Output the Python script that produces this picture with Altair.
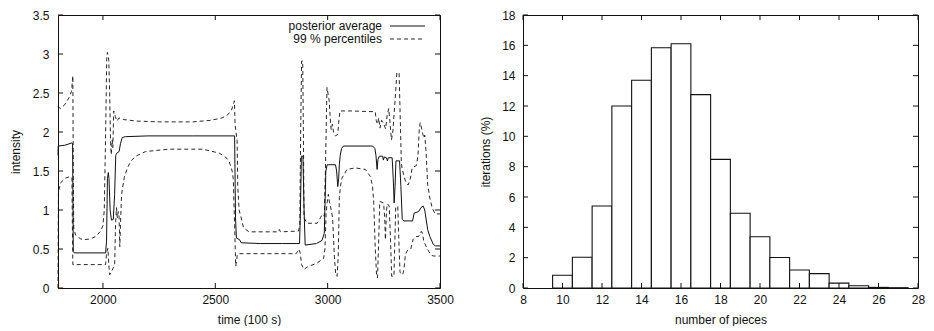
import altair as alt
import pandas as pd

# ---------------- data: left panel (time series) ----------------
avg_t = [1800, 1801, 1830, 1862, 1865, 1868, 1872, 2012, 2016, 2020, 2024, 2027, 2032, 2038, 2046,
         2052, 2057, 2062, 2072, 2078, 2086, 2100, 2200, 2400, 2586, 2590, 2594, 2608, 2615, 2700,
         2800, 2875, 2879, 2883, 2890, 2895, 2900, 2950, 2975, 2985, 2992, 2998, 3035, 3040, 3045,
         3049, 3052, 3056, 3062, 3070, 3200, 3210, 3215, 3220, 3224, 3230, 3245, 3248, 3252, 3262,
         3266, 3270, 3287, 3292, 3296, 3300, 3304, 3320, 3326, 3332, 3340, 3378, 3385, 3405, 3415,
         3425, 3432, 3445, 3455, 3470, 3480, 3500]
avg_v = [1.70, 1.82, 1.83, 1.86, 1.85, 0.47, 0.45, 0.45, 0.60, 1.40, 1.48, 1.40, 1.00, 0.87, 0.88,
         1.20, 1.70, 1.73, 1.75, 1.85, 1.93, 1.94, 1.95, 1.95, 1.95, 0.90, 0.64, 0.62, 0.58, 0.57,
         0.57, 0.57, 1.00, 1.69, 1.69, 1.00, 0.55, 0.57, 0.61, 0.70, 1.50, 1.58, 1.58, 1.50, 1.30,
         1.40, 1.58, 1.70, 1.79, 1.82, 1.82, 1.79, 1.70, 1.52, 1.65, 1.69, 1.69, 1.64, 1.68, 1.67,
         1.63, 1.67, 1.67, 1.40, 1.09, 1.30, 1.63, 1.63, 1.30, 0.88, 0.86, 0.86, 0.96, 0.98, 1.03,
         1.05, 1.00, 0.75, 0.66, 0.56, 0.54, 0.54]

hi_t = [1800, 1810, 1830, 1849, 1860, 1864, 1866, 1868, 1870, 1878, 1900, 1916, 1945, 1968, 1990,
        2000, 2006, 2012, 2017, 2020, 2026, 2030, 2034, 2037, 2041, 2044, 2048, 2055, 2062, 2072,
        2090, 2150, 2250, 2400, 2480, 2530, 2555, 2572, 2580, 2585, 2588, 2592, 2597, 2600, 2606,
        2615, 2625, 2640, 2650, 2780, 2785, 2790, 2870, 2876, 2880, 2884, 2889, 2892, 2895, 2908,
        2953, 2968, 2975, 2985, 2990, 2997, 3007, 3013, 3016, 3021, 3026, 3035, 3045, 3050, 3055,
        3100, 3212, 3216, 3222, 3227, 3233, 3240, 3250, 3258, 3265, 3272, 3278, 3284, 3290, 3300,
        3308, 3318, 3322, 3328, 3332, 3346, 3358, 3368, 3376, 3395, 3402, 3408, 3412, 3418, 3423,
        3428, 3432, 3438, 3445, 3455, 3465, 3478, 3500]
hi_v = [2.33, 2.30, 2.35, 2.44, 2.52, 2.65, 2.72, 1.50, 0.77, 0.68, 0.63, 0.62, 0.63, 0.66, 0.73,
        0.80, 1.00, 2.00, 2.95, 3.02, 2.92, 2.50, 1.85, 1.71, 1.90, 1.80, 2.27, 2.20, 2.14, 2.18,
        2.16, 2.14, 2.13, 2.13, 2.15, 2.18, 2.22, 2.28, 2.35, 2.40, 2.10, 2.00, 1.90, 1.30, 1.00,
        0.90, 0.78, 0.74, 0.72, 0.72, 0.75, 0.72, 0.73, 0.80, 2.00, 2.91, 2.91, 2.00, 0.90, 0.83,
        0.83, 0.90, 0.94, 0.92, 1.50, 2.57, 2.40, 2.10, 2.03, 2.10, 2.00, 1.95, 1.97, 2.15, 2.27,
        2.27, 2.26, 2.15, 2.10, 2.18, 2.05, 2.15, 2.10, 2.04, 2.22, 2.30, 2.10, 1.90, 2.00, 2.40,
        2.76, 2.76, 2.30, 1.60, 1.52, 1.37, 1.32, 1.40, 1.54, 1.57, 1.70, 2.05, 2.12, 2.05, 1.98,
        1.92, 1.96, 1.75, 1.33, 1.15, 1.03, 0.95, 0.95]

lo_t = [1800, 1802, 1812, 1834, 1856, 1862, 1864, 1866, 2012, 2016, 2022, 2026, 2030, 2040, 2046,
        2052, 2056, 2060, 2064, 2068, 2072, 2075, 2079, 2083, 2095, 2109, 2125, 2146, 2190, 2294,
        2443, 2517, 2545, 2561, 2575, 2580, 2586, 2591, 2595, 2598, 2610, 2860, 2866, 2871, 2878,
        2884, 2895, 2910, 2953, 2982, 2988, 2993, 2998, 3003, 3008, 3016, 3022, 3030, 3036, 3042,
        3047, 3052, 3058, 3064, 3086, 3123, 3168, 3190, 3200, 3205, 3212, 3218, 3222, 3226, 3232,
        3249, 3254, 3257, 3262, 3266, 3274, 3280, 3285, 3295, 3299, 3303, 3312, 3317, 3322, 3334,
        3340, 3346, 3355, 3370, 3380, 3392, 3405, 3414, 3420, 3428, 3440, 3450, 3462, 3472, 3500]
lo_v = [0.00, 1.24, 1.35, 1.41, 1.43, 1.40, 0.80, 0.30, 0.30, 0.45, 0.51, 0.30, 0.17, 0.22, 0.26,
        0.28, 0.80, 1.03, 0.90, 0.98, 0.90, 0.53, 0.90, 1.20, 1.42, 1.54, 1.63, 1.69, 1.75, 1.78,
        1.78, 1.73, 1.68, 1.63, 1.50, 1.40, 0.80, 0.28, 0.35, 0.43, 0.44, 0.44, 0.47, 0.50, 0.45,
        0.30, 0.24, 0.27, 0.32, 0.38, 0.50, 0.95, 1.10, 1.20, 1.10, 1.00, 0.90, 0.40, 0.17, 0.15,
        0.40, 1.16, 1.32, 1.41, 1.52, 1.54, 1.52, 1.43, 1.30, 1.10, 0.50, 0.15, 0.13, 0.50, 1.11,
        1.09, 0.90, 0.62, 1.00, 1.08, 1.05, 0.60, 0.15, 0.15, 0.60, 1.03, 1.05, 0.60, 0.20, 0.17,
        0.25, 0.43, 0.48, 0.50, 0.62, 0.66, 0.66, 0.72, 0.72, 0.60, 0.52, 0.47, 0.42, 0.41, 0.41]

left_xticks = [2000, 2500, 3000, 3500]
left_yticks = [0, 0.5, 1, 1.5, 2, 2.5, 3, 3.5]
legend_labels = ["posterior average", "99 % percentiles"]

# ---------------- data: right panel (histogram) ----------------
hist_bins = [10, 11, 12, 13, 14, 15, 16, 17, 18, 19, 20, 21, 22, 23, 24, 25, 26, 27]
hist_pct = [0.84, 2.03, 5.41, 12.0, 13.7, 15.84, 16.1, 12.75, 8.48, 4.93, 3.38, 2.01, 1.19, 0.95,
            0.32, 0.15, 0.04, 0.02]
right_xticks = [8, 10, 12, 14, 16, 18, 20, 22, 24, 26, 28]
right_yticks = [0, 2, 4, 6, 8, 10, 12, 14, 16, 18]

# ---------------- styling ----------------
FONT = "Liberation Sans"
W1, H1 = 382, 273
W2, H2 = 395, 273
TICK = 5
INK = "#111111"

# ---------------- left panel ----------------
xs1 = alt.Scale(domain=[1800, 3500], nice=False, zero=False)
ys1 = alt.Scale(domain=[0, 3.5], nice=False, zero=False)
xax1 = alt.Axis(values=left_xticks, format="d", labelPadding=6, labelFlush=False,
                title="time (100 s)", titlePadding=9)
yax1 = alt.Axis(values=left_yticks, format="~g", labelPadding=9, labelFlush=False,
                title="intensity", titlePadding=10)


def X1(f):
    return alt.X(f"{f}:Q", scale=xs1, axis=xax1)


def Y1(f):
    return alt.Y(f"{f}:Q", scale=ys1, axis=yax1)


avg_df = pd.DataFrame({"t": avg_t, "v": avg_v})
hi_df = pd.DataFrame({"t": hi_t, "v": hi_v})
lo_df = pd.DataFrame({"t": lo_t, "v": lo_v})

avg_line = alt.Chart(avg_df).mark_line(color=INK, strokeWidth=1.0).encode(x=X1("t"), y=Y1("v"), order="t:Q")
hi_line = alt.Chart(hi_df).mark_line(color=INK, strokeWidth=0.9, strokeDash=[4, 3]).encode(
    x=X1("t"), y=Y1("v"), order="t:Q")
lo_line = alt.Chart(lo_df).mark_line(color=INK, strokeWidth=0.9, strokeDash=[4, 3]).encode(
    x=X1("t"), y=Y1("v"), order="t:Q")

lxt = pd.DataFrame({"v": left_xticks})
lyt = pd.DataFrame({"v": left_yticks})
l_ticks = [
    alt.Chart(lxt).mark_rule(color=INK).encode(x=X1("v"), y=alt.value(H1), y2=alt.value(H1 - TICK)),
    alt.Chart(lxt).mark_rule(color=INK).encode(x=X1("v"), y=alt.value(0), y2=alt.value(TICK)),
    alt.Chart(lyt).mark_rule(color=INK).encode(y=Y1("v"), x=alt.value(0), x2=alt.value(TICK)),
    alt.Chart(lyt).mark_rule(color=INK).encode(y=Y1("v"), x=alt.value(W1), x2=alt.value(W1 - TICK)),
]

leg0 = pd.DataFrame({"label": [legend_labels[0]]})
leg1 = pd.DataFrame({"label": [legend_labels[1]]})
LEG_TX, LEG_X1, LEG_X2, LEG_Y0, LEG_Y1 = 324, 332, 367, 11, 24
legend = [
    alt.Chart(leg0).mark_text(font=FONT, fontSize=12, align="right", baseline="middle", color=INK).encode(
        text="label:N", x=alt.value(LEG_TX), y=alt.value(LEG_Y0)),
    alt.Chart(leg1).mark_text(font=FONT, fontSize=12, align="right", baseline="middle", color=INK).encode(
        text="label:N", x=alt.value(LEG_TX), y=alt.value(LEG_Y1)),
    alt.Chart(leg0).mark_rule(color=INK, strokeWidth=1.0).encode(
        x=alt.value(LEG_X1), x2=alt.value(LEG_X2), y=alt.value(LEG_Y0)),
    alt.Chart(leg1).mark_rule(color=INK, strokeWidth=0.9, strokeDash=[4, 3]).encode(
        x=alt.value(LEG_X1), x2=alt.value(LEG_X2), y=alt.value(LEG_Y1)),
]

left = alt.layer(hi_line, lo_line, avg_line, *l_ticks, *legend).properties(width=W1, height=H1)

# ---------------- right panel ----------------
xs2 = alt.Scale(domain=[8, 28], nice=False, zero=False)
ys2 = alt.Scale(domain=[0, 18], nice=False)
xax2 = alt.Axis(values=right_xticks, format="d", labelPadding=6, labelFlush=False,
                title="number of pieces", titlePadding=9)
yax2 = alt.Axis(values=right_yticks, format="d", labelPadding=8, labelFlush=False,
                title="iterations (%)", titlePadding=9)


def X2(f):
    return alt.X(f"{f}:Q", scale=xs2, axis=xax2)


def Y2(f):
    return alt.Y(f"{f}:Q", scale=ys2, axis=yax2)


hist_df = pd.DataFrame({"bin": hist_bins, "pct": hist_pct})
hist_df["lo"] = hist_df["bin"] - 0.5
hist_df["hi"] = hist_df["bin"] + 0.5

bars = alt.Chart(hist_df).mark_rect(fill="white", stroke=INK, strokeWidth=1.1).encode(
    x=X2("lo"), x2="hi:Q", y=Y2("pct"), y2=alt.datum(0))

rxt = pd.DataFrame({"v": right_xticks})
ryt = pd.DataFrame({"v": right_yticks})
r_ticks = [
    alt.Chart(rxt).mark_rule(color=INK).encode(x=X2("v"), y=alt.value(H2), y2=alt.value(H2 - TICK)),
    alt.Chart(rxt).mark_rule(color=INK).encode(x=X2("v"), y=alt.value(0), y2=alt.value(TICK)),
    alt.Chart(ryt).mark_rule(color=INK).encode(y=Y2("v"), x=alt.value(0), x2=alt.value(TICK)),
    alt.Chart(ryt).mark_rule(color=INK).encode(y=Y2("v"), x=alt.value(W2), x2=alt.value(W2 - TICK)),
]

right = alt.layer(bars, *r_ticks).properties(width=W2, height=H2)

chart = (
    alt.hconcat(left, right, spacing=25)
    .properties(padding=0, background="white")
    .configure_view(stroke=INK, strokeWidth=1.0)
    .configure_axis(
        ticks=False, domain=False, grid=False,
        labelFont=FONT, labelFontSize=12, labelColor=INK,
        titleFont=FONT, titleFontSize=12, titleFontWeight="normal", titleColor=INK,
    )
)

chart.save("out.html", embed_options={"renderer": "svg", "actions": False})
